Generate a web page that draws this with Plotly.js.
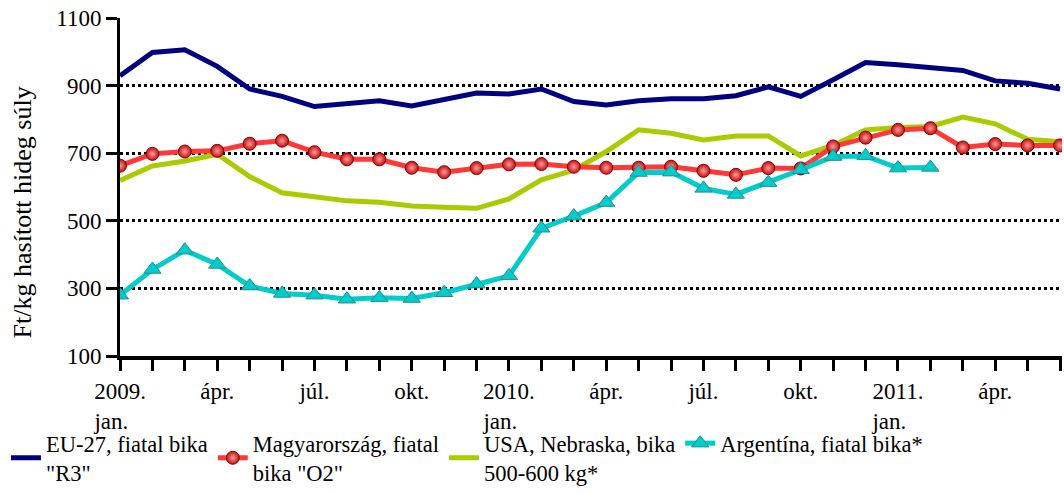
<!DOCTYPE html>
<html>
<head>
<meta charset="utf-8">
<script src="https://cdn.plot.ly/plotly-3.0.1.min.js"></script>
<style>html,body{margin:0;padding:0;background:#fff;}#chart{width:1064px;height:494px;}</style>
</head>
<body>
<div id="chart"></div>
<script>
// Months: 2009 jan .. 2011 jun (index 0..29)
const months = [
  "2009. jan.","2009. febr.","2009. márc.","2009. ápr.","2009. máj.","2009. jún.",
  "2009. júl.","2009. aug.","2009. szept.","2009. okt.","2009. nov.","2009. dec.",
  "2010. jan.","2010. febr.","2010. márc.","2010. ápr.","2010. máj.","2010. jún.",
  "2010. júl.","2010. aug.","2010. szept.","2010. okt.","2010. nov.","2010. dec.",
  "2011. jan.","2011. febr.","2011. márc.","2011. ápr.","2011. máj.","2011. jún."
];
const tickLabels = [
  "2009.<br>jan.\u00a0\u00a0\u00a0","","","ápr.","","","júl.","","","okt.","","",
  "2010.<br>jan.\u00a0\u00a0\u00a0","","","ápr.","","","júl.","","","okt.","","",
  "2011.<br>jan.\u00a0\u00a0\u00a0","","","ápr.","",""
];
const euValues = [929,998,1006,957,890,868,838,845,855,840,858,878,
                  875,890,853,843,855,861,861,870,896,868,917,968,
                  962,954,945,914,907,890];
const huValues = [663,698,705,707,728,737,703,682,682,657,644,656,
                  667,668,660,657,657,660,648,636,656,655,720,746,
                  769,774,717,727,723,723];
const usaValues = [619,662,677,697,631,583,571,559,555,544,540,537,
                   565,621,650,705,769,759,739,751,751,692,723,769,
                   776,779,807,787,741,734];
const argValues = [280,356,413,371,307,285,280,268,272,270,287,313,
                   337,478,514,554,643,644,596,578,613,651,690,692,
                   656,658];
const seriesNames = [
  "EU-27, fiatal bika<br>\"R3\"",
  "Magyarország, fiatal<br>bika \"O2\"",
  "USA, Nebraska, bika<br>500-600 kg*",
  "Argentína, fiatal bika*"
];
const yTitle = "Ft/kg hasított hideg súly";

const idx = months.map((m, i) => i);
const FONT = "Liberation Serif, Times New Roman, serif";

const traces = [
  {x: idx, y: euValues, name: seriesNames[0], mode: "lines", type: "scatter",
   line: {color: "#000080", width: 5}, legendrank: 1, text: months, hoverinfo: "text+y"},
  {x: idx, y: usaValues, name: seriesNames[2], mode: "lines", type: "scatter",
   line: {color: "#a8cc00", width: 5}, legendrank: 3, text: months, hoverinfo: "text+y"},
  {x: idx, y: huValues, name: seriesNames[1], mode: "lines+markers", type: "scatter",
   line: {color: "#ff3838", width: 5},
   marker: {symbol: "circle", size: 13, color: "#c41010",
            gradient: {type: "radial", color: "#ff9a9a"},
            line: {color: "#8a0000", width: 1}},
   legendrank: 2, text: months, hoverinfo: "text+y"},
  {x: idx.slice(0, argValues.length), y: argValues, name: seriesNames[3], mode: "lines+markers", type: "scatter",
   line: {color: "#00cccc", width: 5},
   marker: {symbol: "triangle-up", size: 15, color: "#00cccc",
            line: {color: "#2a8c8c", width: 1}},
   legendrank: 4, text: months.slice(0, argValues.length), hoverinfo: "text+y"}
];

const layout = {
  width: 1064, height: 494,
  margin: {l: 120, r: 2, t: 18, b: 138},
  paper_bgcolor: "#fff", plot_bgcolor: "#fff",
  font: {family: FONT, size: 23, color: "#000"},
  showlegend: true,
  legend: {orientation: "h", x: 0.0056, xref: "container", xanchor: "left",
           y: -0.065, yref: "container", yanchor: "bottom",
           bgcolor: "rgba(0,0,0,0)",
           font: {family: FONT, size: 22.5, color: "#000"},
           traceorder: "normal", itemwidth: 30, tracegroupgap: 0},
  xaxis: {
    range: [0, 29.06], tickmode: "array", tickvals: idx, ticktext: tickLabels,
    showgrid: false, zeroline: false, showline: true, linecolor: "#000", linewidth: 4,
    ticks: "outside", ticklen: 11, tickwidth: 3, tickcolor: "#000",
    tickangle: 0, tickfont: {family: FONT, size: 23, color: "#000"}
  },
  yaxis: {
    range: [100, 1100], tickmode: "linear", tick0: 100, dtick: 200,
    showgrid: true, gridcolor: "#000", gridwidth: 3, griddash: "3px,3px",
    zeroline: false, showline: true, linecolor: "#000", linewidth: 3,
    ticks: "outside", ticklen: 11, tickwidth: 3, tickcolor: "#000",
    tickfont: {family: FONT, size: 23, color: "#000"}
  },
  annotations: [{
    text: yTitle, xref: "paper", yref: "paper",
    x: -0.104, y: 0.425, xanchor: "center", yanchor: "middle",
    textangle: -90, showarrow: false,
    font: {family: FONT, size: 26, color: "#000"}
  }]
};

Plotly.newPlot("chart", traces, layout, {displayModeBar: false, staticPlot: true});
</script>
</body>
</html>
